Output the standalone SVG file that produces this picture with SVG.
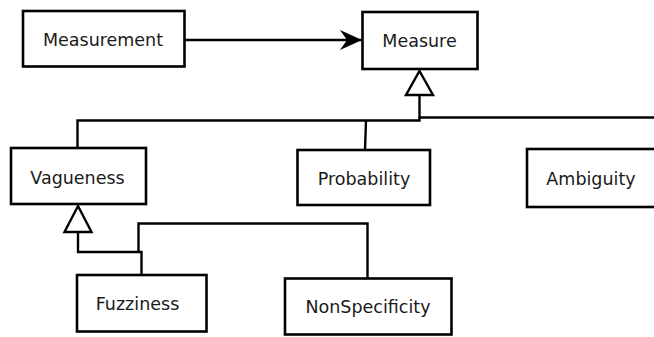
<svg xmlns="http://www.w3.org/2000/svg" width="654" height="337" viewBox="0 0 654 337">
  <style>
    .box { fill: #ffffff; stroke: #000000; stroke-width: 2.6; }
    .lbl { font-family: "DejaVu Sans", "Liberation Sans", sans-serif; font-size: 17.5px; fill: #1a1a1a; text-anchor: middle; }
    .wire { fill: none; stroke: #000000; stroke-width: 2.4; stroke-linejoin: miter; }
    .hollow { fill: #ffffff; stroke: #000000; stroke-width: 2.4; stroke-linejoin: miter; }
  </style>
  <defs>
    <marker id="arrowFilled" viewBox="0 0 22 20" refX="22" refY="10" markerWidth="22" markerHeight="20" markerUnits="userSpaceOnUse" orient="auto">
      <path d="M0,0 L22,10 L0,20 L7,10 Z" fill="#000000"/>
    </marker>
  </defs>

  <!-- connectors -->
  <g id="connectors">
    <!-- association: Measurement to Measure -->
    <line class="wire" x1="185" y1="40" x2="362" y2="40" marker-end="url(#arrowFilled)"/>

    <!-- generalization into Measure -->
    <polyline class="wire" points="419.5,95 419.5,120.5 77.5,120.5 77.5,148"/>
    <line class="wire" x1="418.5" y1="117.5" x2="656" y2="117.5"/>
    <line class="wire" x1="366" y1="120.5" x2="365" y2="150"/>
    <polygon class="hollow" points="419.5,71 433,95 406,95"/>

    <!-- generalization into Vagueness -->
    <polyline class="wire" points="78,232 78,252 141.5,252 141.5,275"/>
    <polyline class="wire" points="138.5,252 138.5,223.5 367.5,223.5 367.5,278"/>
    <polygon class="hollow" points="78,206 91.5,232 64.5,232"/>
  </g>

  <g id="measurement">
    <rect class="box" x="23" y="11" width="161.5" height="55.5"/>
    <text class="lbl" x="103" y="46">Measurement</text>
  </g>

  <g id="measure">
    <rect class="box" x="362.5" y="12" width="115" height="57"/>
    <text class="lbl" x="419.5" y="47">Measure</text>
  </g>

  <g id="vagueness">
    <rect class="box" x="11" y="148" width="135" height="56"/>
    <text class="lbl" x="77.5" y="183.5">Vagueness</text>
  </g>

  <g id="probability">
    <rect class="box" x="297.5" y="150" width="132.5" height="55"/>
    <text class="lbl" x="364" y="185">Probability</text>
  </g>

  <g id="ambiguity">
    <rect class="box" x="527" y="149" width="140" height="58"/>
    <text class="lbl" x="591" y="185">Ambiguity</text>
  </g>

  <g id="fuzziness">
    <rect class="box" x="77" y="275" width="129.5" height="56.5"/>
    <text class="lbl" x="137.5" y="310">Fuzziness</text>
  </g>

  <g id="nonspecificity">
    <rect class="box" x="285" y="278.5" width="166.5" height="56"/>
    <text class="lbl" x="368" y="313">NonSpecificity</text>
  </g>
</svg>
